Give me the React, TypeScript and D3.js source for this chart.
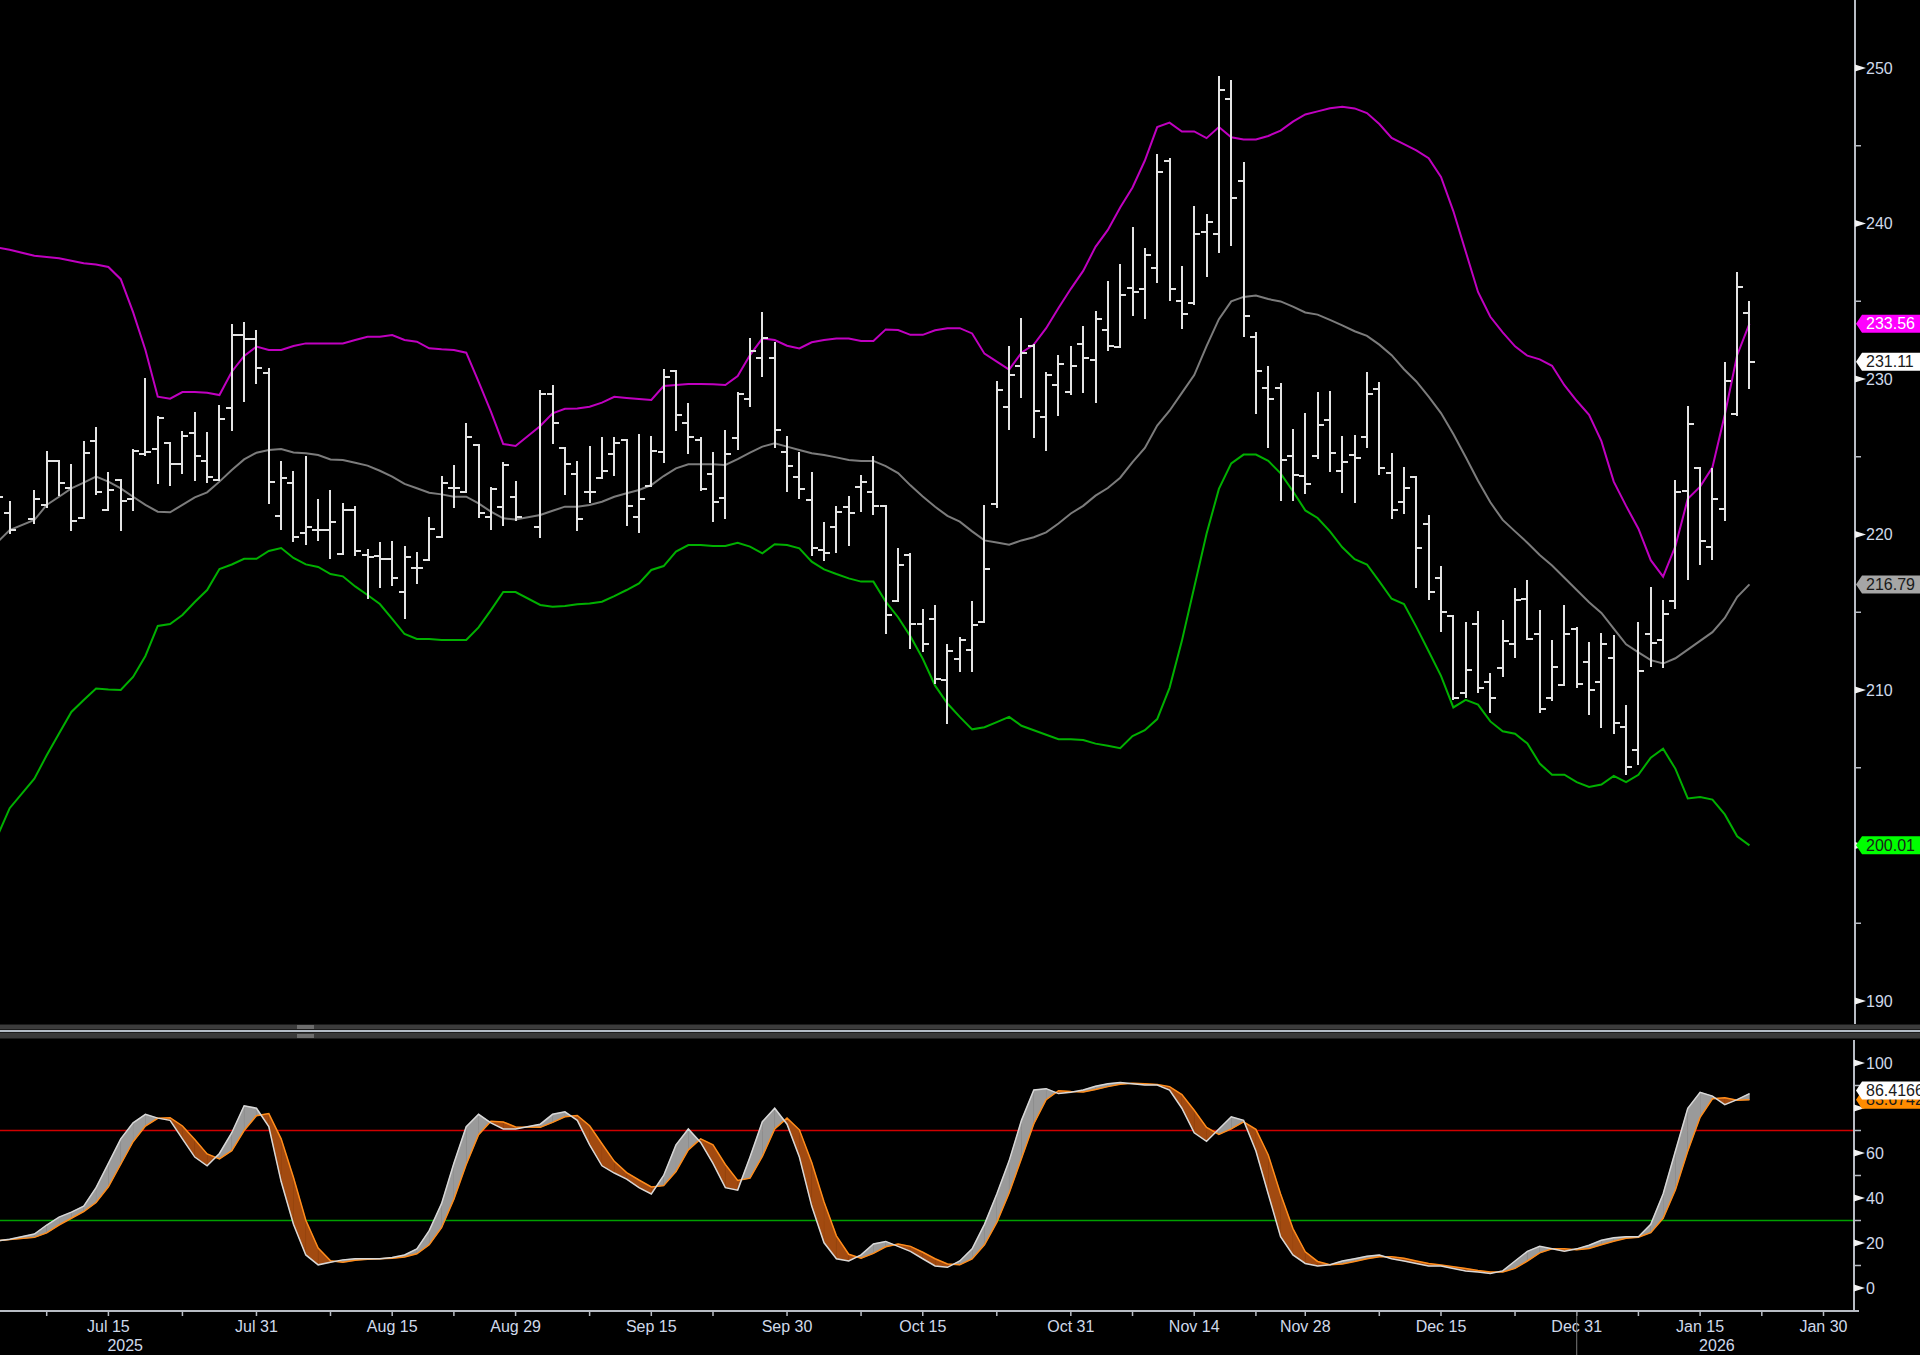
import * as d3 from 'd3';
import React from 'react';

const W = 1920;
const H = 1355;

// trading calendar: weekdays from the first bar, minus days the chart has no slot for
const START = '2025-07-02';
const END = '2026-01-30';
const NO_SLOT = ['2025-11-27', '2025-12-25', '2026-01-01', '2026-01-19'];

const dayTicks = ['2025-07-15', '2025-07-31', '2025-08-15', '2025-08-29', '2025-09-15', '2025-09-30', '2025-10-15',
  '2025-10-31', '2025-11-14', '2025-11-28', '2025-12-15', '2025-12-31', '2026-01-15', '2026-01-30'];
const dayTickLabels = ['Jul 15', 'Jul 31', 'Aug 15', 'Aug 29', 'Sep 15', 'Sep 30', 'Oct 15',
  'Oct 31', 'Nov 14', 'Nov 28', 'Dec 15', 'Dec 31', 'Jan 15', 'Jan 30'];
const minorTicks = ['2025-07-08', '2025-07-23', '2025-08-08', '2025-08-22', '2025-09-08', '2025-09-22', '2025-10-08',
  '2025-10-23', '2025-11-07', '2025-11-21', '2025-12-08', '2025-12-23', '2026-01-08', '2026-01-23'];
const yearTicks = ['2025-07-15', '2026-01-15'];
const yearLabels = ['2025', '2026'];
const yearBreak = '2025-12-31';

const priceTicks = [190, 200, 210, 220, 230, 240, 250];
const priceMinor = [195, 205, 215, 225, 235, 245];
const stochTicks = [0, 20, 40, 60, 80, 100];
const stochMinor = [10, 30, 50, 70, 90];
const overbought = 70;
const oversold = 30;

// daily bars [open, high, low, close]; null = holiday slot
const ohlc: ([number, number, number, number] | null)[] = [
  [221.8, 222.8, 221.0, 222.43], [221.4, 222.11, 220.07, 220.29], null, [221.0, 222.8, 220.72, 222.28],
  [221.9, 225.33, 221.79, 224.73], [224.73, 224.75, 222.54, 223.29], [223.0, 224.47, 220.29, 220.89],
  [221.04, 225.97, 221.04, 225.22], [226.03, 226.87, 222.6, 222.71], [221.58, 223.93, 221.58, 222.86],
  [223.5, 223.5, 220.29, 222.15], [222.28, 225.43, 221.58, 225.37], [225.16, 230.0, 225.11, 225.33],
  [225.48, 227.53, 223.29, 227.47], [225.9, 225.9, 223.18, 224.51], [224.51, 226.61, 223.93, 226.33],
  [226.5, 227.79, 223.5, 225.07], [224.75, 226.5, 223.4, 223.72], [223.5, 228.26, 223.5, 227.41],
  [228.11, 233.47, 226.72, 232.83], [232.83, 233.62, 228.61, 232.55], [232.55, 233.11, 229.76, 230.73],
  [230.41, 230.62, 222.0, 223.4], [221.19, 224.64, 220.33, 223.65], [223.33, 224.0, 219.58, 219.82],
  [220.08, 225.0, 219.37, 220.46], [220.29, 222.22, 219.65, 220.29], [220.29, 222.8, 218.47, 220.83],
  [218.75, 221.96, 218.75, 221.58], [221.58, 221.79, 218.68, 218.96], [218.68, 219.0, 215.9, 218.53],
  [218.64, 219.43, 216.6, 218.4], [218.4, 219.5, 216.75, 217.22], [216.32, 219.17, 214.61, 218.57],
  [217.87, 218.79, 216.9, 217.87], [218.36, 221.04, 218.36, 220.33], [219.86, 223.68, 219.86, 223.29],
  [222.97, 224.43, 221.76, 222.97], [222.76, 227.1, 222.71, 226.29], [225.76, 225.76, 221.15, 221.4],
  [221.15, 222.97, 220.35, 222.93], [221.79, 224.58, 220.61, 224.47], [222.43, 223.35, 220.93, 221.15],
  null, [220.5, 229.25, 219.82, 229.01], [229.01, 229.57, 225.86, 227.15], [225.58, 225.58, 222.6, 224.51],
  [223.87, 224.64, 220.29, 220.97], [222.76, 225.65, 222.11, 222.71], [223.65, 226.23, 223.61, 224.08],
  [225.16, 226.23, 223.83, 225.91], [226.08, 226.08, 220.61, 221.85], [221.15, 226.4, 220.14, 222.28],
  [223.14, 226.25, 223.14, 225.39], [225.33, 230.58, 224.64, 230.15], [230.51, 230.54, 226.72, 227.68],
  [227.15, 228.37, 225.22, 226.29], [226.08, 226.23, 222.86, 222.93], [223.87, 225.26, 220.89, 222.11],
  [222.33, 226.66, 221.04, 225.16], [226.23, 229.08, 225.48, 229.01], [228.71, 232.55, 228.26, 231.8],
  [231.33, 234.27, 230.19, 232.61], [231.33, 232.34, 225.65, 226.72], [225.33, 226.29, 222.82, 224.43],
  [223.68, 225.26, 222.33, 222.93], [222.22, 223.93, 218.68, 219.11], [219.0, 220.76, 218.36, 218.79],
  [220.46, 221.79, 218.9, 221.47], [221.75, 222.43, 219.32, 221.4], [223.03, 223.76, 221.53, 223.35],
  [222.76, 225.0, 221.3, 221.85], [221.85, 221.85, 213.69, 214.82], [215.74, 219.05, 215.74, 218.04],
  [218.68, 218.76, 212.73, 214.22], [214.22, 215.17, 212.53, 212.93], [214.59, 215.4, 210.43, 210.72],
  [210.63, 212.87, 207.9, 212.53], [212.01, 213.36, 211.2, 213.22], [212.58, 215.66, 211.23, 214.16],
  [214.36, 221.84, 214.36, 217.81], [221.98, 229.82, 221.78, 229.31], [228.19, 232.04, 226.81, 230.26],
  [230.83, 233.85, 228.82, 231.69], [232.12, 232.21, 226.29, 227.96], [227.53, 230.4, 225.43, 230.26],
  [229.6, 231.49, 227.67, 230.97], [229.16, 232.04, 229.02, 230.83], [232.27, 233.33, 229.19, 231.32],
  [231.2, 234.34, 228.53, 233.85], [233.13, 236.23, 231.84, 232.12], [232.04, 237.35, 232.04, 235.43],
  [235.86, 239.74, 234.13, 235.57], [235.8, 238.36, 233.93, 237.96], [237.15, 244.42, 236.23, 243.33],
  [244.05, 244.14, 235.08, 235.8], [234.99, 237.21, 233.27, 234.19], [234.91, 241.09, 234.85, 239.31],
  [239.45, 240.54, 236.64, 240.11], [239.31, 249.42, 238.16, 248.59], [247.98, 249.16, 238.59, 241.61],
  [242.76, 243.9, 232.78, 234.08], [232.7, 232.93, 227.81, 230.54], [229.39, 230.77, 225.6, 228.73],
  [229.45, 229.68, 222.21, 224.79], [225.08, 226.75, 222.21, 223.85], [223.73, 227.76, 222.64, 223.27],
  [225.03, 229.1, 224.94, 227.01], [227.38, 229.16, 224.08, 225.23], [224.1, 226.24, 222.74, 224.66],
  [225.11, 226.35, 222.11, 224.93], [226.3, 230.41, 225.63, 229.05], [229.35, 229.77, 223.87, 224.27],
  [223.98, 225.15, 221.05, 221.57], [222.11, 224.27, 221.39, 222.97], [223.69, 223.69, 216.61, 219.13],
  [220.65, 221.16, 215.87, 216.32], [217.22, 217.94, 213.8, 215.01], [214.78, 214.78, 209.4, 209.51],
  [209.78, 214.29, 209.55, 211.31], [214.24, 215.01, 209.85, 210.16], [210.5, 211.06, 208.58, 209.51],
  [211.4, 214.45, 210.91, 213.16], [212.94, 216.5, 212.1, 215.8], [215.82, 216.99, 213.27, 213.27],
  [213.57, 215.08, 208.58, 208.81], [209.49, 213.12, 209.37, 211.47], [210.34, 215.42, 210.3, 213.61],
  [213.95, 214.0, 210.19, 210.41], [211.81, 213.05, 208.43, 210.01], [210.5, 213.61, 207.64, 212.94],
  [212.03, 213.5, 207.23, 207.86], [207.59, 208.99, 204.6, 205.05], [206.17, 214.29, 205.27, 211.25],
  [213.57, 216.59, 211.52, 213.05], [213.21, 215.75, 211.47, 214.9], [215.75, 223.42, 215.3, 222.74],
  [222.79, 228.2, 217.11, 227.09], [224.27, 224.27, 218.12, 219.59], [219.18, 224.21, 218.41, 222.29],
  [221.66, 231.01, 220.94, 229.84], [227.75, 236.79, 227.66, 235.93], [234.24, 234.96, 229.39, 231.11],
];

// Bollinger bands, one value per slot
const upperBand: (number | null)[] = [
  238.46, 238.31, null, 237.92, 237.84, 237.76, 237.6, 237.44, 237.36, 237.2, 236.42, 234.3, 231.87,
  228.86, 228.73, 229.16, 229.16, 229.12, 228.97, 230.47, 231.48, 232.08, 231.87, 231.87, 232.12, 232.29,
  232.29, 232.29, 232.29, 232.51, 232.72, 232.72, 232.83, 232.51, 232.4, 231.97, 231.91, 231.87, 231.69,
  229.83, 227.9, 225.82, 225.69, null, 226.98, 227.79, 228.09, 228.11, 228.22, 228.48, 228.86, 228.78,
  228.71, 228.65, 229.55, 229.61, 229.68, 229.68, 229.66, 229.61, 230.19, 231.54, 232.61, 232.51, 232.14,
  231.97, 232.36, 232.51, 232.61, 232.61, 232.44, 232.44, 233.19, 233.15, 232.84, 232.84, 233.13, 233.27,
  233.27, 232.93, 231.63, 231.12, 230.6, 231.69, 232.21, 233.27, 234.57, 235.8, 236.95, 238.5, 239.59,
  241.03, 242.32, 244.05, 246.2, 246.49, 245.92, 245.92, 245.49, 246.2, 245.54, 245.4, 245.4, 245.63,
  245.97, 246.55, 247.01, 247.21, 247.41, 247.5, 247.4, 247.1, 246.4, 245.5, 245.1, 244.7, 244.2, 243.0,
  240.8, 238.2, 235.6, 234.0, 233.0, 232.1, 231.5, 231.26, 230.85, 229.6, 228.6, 227.7, 226.0, 223.4,
  221.84, 220.37, 218.35, 217.29, 219.26, 222.29, 223.08, 224.32, 227.7, 231.53, 233.56,
];
const middleBand: (number | null)[] = [
  219.5, 220.29, null, 220.93, 221.9, 222.43, 222.97, 223.33, 223.72, 223.4, 222.97, 222.43, 221.9,
  221.47, 221.43, 221.9, 222.39, 222.71, 223.4, 224.15, 224.83, 225.26, 225.43, 225.5, 225.28, 225.22,
  225.11, 224.83, 224.79, 224.62, 224.43, 224.1, 223.72, 223.25, 222.97, 222.69, 222.58, 222.43, 222.43,
  222.0, 221.47, 221.04, 220.97, null, 221.25, 221.53, 221.79, 221.79, 221.9, 222.11, 222.43, 222.65,
  222.86, 223.18, 223.76, 224.25, 224.51, 224.51, 224.51, 224.47, 224.85, 225.26, 225.65, 225.86, 225.65,
  225.43, 225.22, 225.11, 224.96, 224.79, 224.73, 224.73, 224.4, 223.95, 223.16, 222.44, 221.78, 221.2,
  220.83, 220.2, 219.62, 219.48, 219.34, 219.62, 219.82, 220.14, 220.71, 221.35, 221.84, 222.5, 222.99,
  223.65, 224.65, 225.57, 227.01, 227.96, 229.11, 230.25, 232.12, 233.85, 234.99, 235.28, 235.37, 235.14,
  234.99, 234.65, 234.28, 234.14, 233.8, 233.45, 233.07, 232.77, 232.21, 231.53, 230.63, 229.84, 228.87,
  227.81, 226.46, 224.99, 223.46, 222.07, 220.94, 220.2, 219.47, 218.68, 218.01, 217.22, 216.43, 215.64,
  214.96, 213.95, 212.94, 212.42, 211.92, 211.7, 212.04, 212.6, 213.16, 213.72, 214.63, 215.98, 216.79,
];
const lowerBand: (number | null)[] = [
  200.6, 202.4, null, 204.3, 205.8, 207.2, 208.59, 209.36, 210.1, 210.03, 210.0, 210.84, 212.19,
  214.12, 214.24, 214.82, 215.66, 216.43, 217.78, 218.07, 218.44, 218.44, 218.94, 219.13, 218.49, 218.08,
  217.91, 217.46, 217.31, 216.66, 216.11, 215.53, 214.57, 213.6, 213.28, 213.28, 213.22, 213.22, 213.22,
  214.03, 215.14, 216.3, 216.3, null, 215.47, 215.36, 215.4, 215.51, 215.57, 215.68, 216.04, 216.43,
  216.86, 217.72, 217.97, 218.9, 219.32, 219.32, 219.26, 219.26, 219.47, 219.22, 218.79, 219.37, 219.32,
  219.11, 218.25, 217.76, 217.46, 217.18, 216.97, 216.97, 215.68, 214.68, 213.45, 212.01, 210.28, 209.13,
  208.27, 207.47, 207.61, 207.93, 208.27, 207.7, 207.41, 207.12, 206.84, 206.84, 206.78, 206.55, 206.41,
  206.26, 207.04, 207.41, 208.13, 210.14, 213.16, 216.61, 220.05, 222.93, 224.57, 225.14, 225.14, 224.74,
  223.93, 222.78, 221.55, 221.06, 220.2, 219.18, 218.41, 218.07, 216.99, 215.87, 215.53, 214.06, 212.49,
  210.91, 208.88, 209.37, 209.06, 207.98, 207.35, 207.19, 206.56, 205.27, 204.55, 204.55, 204.08, 203.76,
  203.92, 204.48, 204.08, 204.55, 205.65, 206.22, 204.93, 203.03, 203.12, 202.95, 202.0, 200.59, 200.01,
];

// slow stochastic %K and %D
const stochK: (number | null)[] = [
  21, 21.7, null, 24, 28, 31.5, 33.7, 36.4, 44.6, 55.4, 66.3, 73.4, 77.2, 75.5, 74.5, 66.3, 58.2, 54.3,
  59.8, 69, 81, 79.9, 71.7, 47.3, 28.3, 14.7, 10.3, 11.4, 12.5, 13, 13, 13, 13.6, 14.7, 17.4, 25.5, 37.5,
  55.4, 71.7, 77.2, 73.4, 70.7, 70.7, null, 72.8, 77.2, 78.3, 74.5, 63.6, 54.3, 51.1, 48.4, 44.6, 41.8,
  50, 63.6, 70.7, 64.7, 55.4, 44.6, 43.5, 58.2, 73.9, 79.9, 72.8, 58.2, 36.4, 20.1, 13, 12, 14.7, 19.6,
  20.7, 18.5, 16.3, 13, 9.8, 9.2, 12, 17.4, 28.3, 41.8, 56.5, 74.5, 88, 88.6, 86.4, 87, 88, 89.7, 90.8,
  91.3, 90.8, 90.2, 90.2, 88, 79.9, 69, 65.2, 70.7, 76.1, 74.5, 60.9, 41.8, 22.8, 14.7, 10.9, 9.8, 10.3,
  12, 13, 14.1, 14.7, 13, 12, 10.9, 9.8, 9.8, 8.7, 7.6, 7.1, 6.5, 7.6, 12, 16.3, 18.5, 17.4, 16.3, 17.4,
  19, 21.2, 22.3, 22.8, 22.8, 28.3, 41.8, 60.9, 79.9, 87, 85.3, 81.5, 83.7, 86.4166,
];
const stochD: (number | null)[] = [
  21, 21.5, null, 22.5, 24.5, 28, 31, 34, 38, 45, 55, 65, 72, 75.4, 75.7, 72, 66, 59.6, 57.4, 61, 70,
  76.6, 77.5, 66.3, 49.1, 30.1, 17.8, 12.1, 11.4, 12.3, 12.8, 13, 13.2, 13.8, 15.2, 19.2, 26.8, 39.5,
  54.9, 68.1, 74.1, 73.8, 71.6, null, 71.4, 73.6, 76.1, 76.7, 72.1, 64.1, 56.3, 51.3, 48, 44.9, 45.5,
  51.8, 61.4, 66.3, 63.6, 54.9, 47.8, 48.8, 58.5, 70.7, 75.5, 70.3, 55.8, 38.2, 23.2, 15, 13.2, 15.4,
  18.3, 19.6, 18.5, 15.9, 13, 10.7, 10.3, 12.9, 19.2, 29.2, 42.2, 57.6, 73, 83.7, 87.7, 87.3, 87.1, 88.2,
  89.5, 90.6, 91, 90.8, 90.4, 89.5, 86, 79, 71.4, 68.3, 70.7, 73.8, 70.5, 59.1, 41.8, 26.4, 16.1, 11.8,
  10.3, 10.7, 11.8, 13, 13.9, 13.9, 13.2, 12, 10.9, 10.2, 9.4, 8.7, 7.8, 7.1, 7.1, 8.7, 12, 15.6, 17.4,
  17.4, 17, 17.6, 19.2, 20.8, 22.1, 22.6, 24.6, 31, 43.7, 60.9, 75.9, 84.1, 84.6, 83.5, 83.6742,
];

const FONT = '"Liberation Sans", Arial, sans-serif';
const AXIS_TEXT = '#cfd9ea';
const AXIS_LINE = '#b8bcc4';

function tradingSlots(): string[] {
  const fmt = d3.utcFormat('%Y-%m-%d');
  const out: string[] = [];
  const from = d3.utcParse('%Y-%m-%d')(START)!;
  const to = d3.utcDay.offset(d3.utcParse('%Y-%m-%d')(END)!, 1);
  for (const d of d3.utcDays(from, to)) {
    const wd = d.getUTCDay();
    if (wd === 0 || wd === 6) continue;
    const s = fmt(d);
    if (NO_SLOT.includes(s)) continue;
    out.push(s);
  }
  return out;
}

type Pt = [number, number];

function Tag({ y, text, fill, color }: { y: number; text: string; fill: string; color: string }) {
  const x0 = 1856;
  return (
    <g>
      <path d={`M${x0},${y}L${x0 + 6},${y - 9}L${W},${y - 9}L${W},${y + 9}L${x0 + 6},${y + 9}Z`} fill={fill} />
      <text x={1866} y={y} dy="0.36em" fill={color} fontSize={16} fontFamily={FONT}>{text}</text>
    </g>
  );
}

export default function App() {
  const slots = tradingSlots();
  const slotOf = (s: string) => slots.indexOf(s);

  const x = d3.scaleLinear().domain([slotOf('2025-07-15'), slotOf('2026-01-30')]).range([108.4, 1823.5]);
  const y = d3.scaleLinear().domain([190, 250]).range([1001, 68]);
  const ys = d3.scaleLinear().domain([0, 100]).range([1288, 1063]);

  const axisX = 1855;

  const series = (arr: (number | null)[]): Pt[] =>
    arr.map((v, i) => (v == null ? null : ([i, v] as Pt))).filter((p): p is Pt => p !== null);

  const priceLine = d3.line<Pt>().x(d => x(d[0])).y(d => y(d[1]));
  const stochLine = d3.line<Pt>().x(d => x(d[0])).y(d => ys(d[1]));

  // ribbon between %K and %D, split where they cross
  const kd = stochK
    .map((k, i) => (k == null || stochD[i] == null ? null : { i, k, d: stochD[i] as number }))
    .filter((p): p is { i: number; k: number; d: number } => p !== null);
  const upPolys: string[] = [];
  const dnPolys: string[] = [];
  for (let j = 0; j < kd.length - 1; j++) {
    const a = kd[j], b = kd[j + 1];
    const xa = x(a.i), xb = x(b.i);
    const da = a.k - a.d, db = b.k - b.d;
    if (da * db >= 0) {
      const p = `M${xa},${ys(a.k)}L${xb},${ys(b.k)}L${xb},${ys(b.d)}L${xa},${ys(a.d)}Z`;
      (da + db >= 0 ? upPolys : dnPolys).push(p);
    } else {
      const t = da / (da - db);
      const cx = xa + t * (xb - xa);
      const cy = ys(a.k + t * (b.k - a.k));
      (da > 0 ? upPolys : dnPolys).push(`M${xa},${ys(a.k)}L${cx},${cy}L${xa},${ys(a.d)}Z`);
      (db > 0 ? upPolys : dnPolys).push(`M${cx},${cy}L${xb},${ys(b.k)}L${xb},${ys(b.d)}Z`);
    }
  }

  const last = (arr: (number | null)[]) => arr[arr.length - 1] as number;
  const lastBar = ohlc[ohlc.length - 1]!;

  // value tags on the right edge; tick labels they cover are not drawn
  const priceTags = [
    { v: last(upperBand), fill: '#ff00ff', color: '#ffffff', digits: 2, dy: 0 },
    { v: lastBar[3], fill: '#ffffff', color: '#1a1a1a', digits: 2, dy: 0 },
    { v: last(middleBand), fill: '#a6a6a6', color: '#1a1a1a', digits: 2, dy: 0 },
    { v: last(lowerBand), fill: '#00ff00', color: '#1a1a1a', digits: 2, dy: 0 },
  ];
  const stochTags = [
    { v: last(stochD), fill: '#ff8c00', color: '#1a1a1a', digits: 4, dy: 0 },
    { v: last(stochK), fill: '#ffffff', color: '#1a1a1a', digits: 4, dy: -3 },
  ];
  const priceFree = (v: number) => priceTags.every(t => Math.abs(y(t.v) - y(v)) > 13);
  const stochFree = (v: number) => stochTags.every(t => Math.abs(ys(t.v) - ys(v)) > 13);

  return (
    <svg width={W} height={H} viewBox={`0 0 ${W} ${H}`}
      style={{ position: 'absolute', left: 0, top: 0, display: 'block', background: '#000' }}>
      <defs>
        <clipPath id="pricePlot"><rect x={0} y={0} width={axisX} height={1022} /></clipPath>
        <clipPath id="stochPlot"><rect x={0} y={1040} width={axisX - 1} height={271} /></clipPath>
      </defs>
      <rect x={0} y={0} width={W} height={H} fill="#000" />

      {/* price panel */}
      <g clipPath="url(#pricePlot)">
        <path d={priceLine(series(upperBand)) ?? ''} fill="none" stroke="#c000c0" strokeWidth={2} />
        <path d={priceLine(series(middleBand)) ?? ''} fill="none" stroke="#7c7c7c" strokeWidth={2} />
        <path d={priceLine(series(lowerBand)) ?? ''} fill="none" stroke="#00b000" strokeWidth={2} />
        <g stroke="#e4e4e4" strokeWidth={2} shapeRendering="crispEdges">
          {ohlc.map((b, i) => {
            if (!b) return null;
            const cx = Math.round(x(i));
            return (
              <g key={i}>
                <line x1={cx} x2={cx} y1={y(b[1]) - 1} y2={y(b[2]) + 1} />
                <line x1={cx - 6} x2={cx} y1={Math.round(y(b[0]))} y2={Math.round(y(b[0]))} />
                <line x1={cx} x2={cx + 6} y1={Math.round(y(b[3]))} y2={Math.round(y(b[3]))} />
              </g>
            );
          })}
        </g>
      </g>

      {/* price axis */}
      <line x1={axisX} x2={axisX} y1={0} y2={1024} stroke={AXIS_LINE} strokeWidth={2} />
      {priceMinor.map(v => (
        <line key={v} x1={axisX} x2={axisX + 6} y1={y(v)} y2={y(v)} stroke={AXIS_LINE} strokeWidth={1.5} />
      ))}
      {priceTicks.map(v => (
        <g key={v}>
          <path d={`M${axisX},${y(v) - 3.5}L${axisX + 11},${y(v)}L${axisX},${y(v) + 3.5}Z`} fill="#f2f2f2" />
          {priceFree(v) && (
            <text x={1866} y={y(v)} dy="0.36em" fill={AXIS_TEXT} fontSize={16} fontFamily={FONT}>{v}</text>
          )}
        </g>
      ))}
      {priceTags.map((t, i) => (
        <Tag key={i} y={y(t.v) + t.dy} text={t.v.toFixed(t.digits)} fill={t.fill} color={t.color} />
      ))}

      {/* panel separator */}
      <rect x={0} y={1024} width={W} height={15} fill="#1c1c1c" />
      <rect x={0} y={1025} width={W} height={4} fill="#3c3c3c" />
      <rect x={0} y={1033} width={W} height={5} fill="#3a3a3a" />
      <rect x={0} y={1030} width={W} height={2} fill="#b4bcc6" />
      <rect x={297} y={1025} width={17} height={4} fill="#6e6e6e" />
      <rect x={297} y={1034} width={17} height={4} fill="#6e6e6e" />

      {/* stochastic panel */}
      <g clipPath="url(#stochPlot)">
        <line x1={0} x2={axisX} y1={ys(overbought)} y2={ys(overbought)} stroke="#d00000" strokeWidth={1.5} />
        <line x1={0} x2={axisX} y1={ys(oversold)} y2={ys(oversold)} stroke="#00a000" strokeWidth={1.5} />
        {upPolys.map((p, i) => <path key={`u${i}`} d={p} fill="#9a9a9a" stroke="#9a9a9a" strokeWidth={0.5} />)}
        {dnPolys.map((p, i) => <path key={`d${i}`} d={p} fill="#a24a10" stroke="#a24a10" strokeWidth={0.5} />)}
        <path d={stochLine(series(stochD)) ?? ''} fill="none" stroke="#ff8c1a" strokeWidth={1.5} />
        <path d={stochLine(series(stochK)) ?? ''} fill="none" stroke="#d8d8d8" strokeWidth={1.5} />
      </g>

      <line x1={axisX - 1} x2={axisX - 1} y1={1040} y2={1311} stroke={AXIS_LINE} strokeWidth={2} />
      {stochMinor.map(v => (
        <line key={v} x1={axisX} x2={axisX + 6} y1={ys(v)} y2={ys(v)} stroke={AXIS_LINE} strokeWidth={1.5} />
      ))}
      {stochTicks.map(v => (
        <g key={v}>
          <path d={`M${axisX - 1},${ys(v) - 3.5}L${axisX + 10},${ys(v)}L${axisX - 1},${ys(v) + 3.5}Z`} fill="#f2f2f2" />
          {stochFree(v) && (
            <text x={1866} y={ys(v)} dy="0.36em" fill={AXIS_TEXT} fontSize={16} fontFamily={FONT}>{v}</text>
          )}
        </g>
      ))}
      {stochTags.map((t, i) => (
        <Tag key={i} y={ys(t.v) + t.dy} text={t.v.toFixed(t.digits)} fill={t.fill} color={t.color} />
      ))}

      {/* time axis */}
      <line x1={0} x2={axisX + 4} y1={1311} y2={1311} stroke={AXIS_LINE} strokeWidth={2} />
      {minorTicks.map(d => (
        <line key={d} x1={x(slotOf(d))} x2={x(slotOf(d))} y1={1311} y2={1316} stroke={AXIS_LINE} strokeWidth={1.5} />
      ))}
      {dayTicks.map((d, i) => (
        <g key={d}>
          <line x1={x(slotOf(d))} x2={x(slotOf(d))} y1={1311} y2={1316} stroke={AXIS_LINE} strokeWidth={1.5} />
          <text x={x(slotOf(d))} y={1332} textAnchor="middle" fill={AXIS_TEXT} fontSize={16} fontFamily={FONT}>
            {dayTickLabels[i]}
          </text>
        </g>
      ))}
      {yearTicks.map((d, i) => (
        <text key={d} x={x(slotOf(d)) - 1} y={1351} fill={AXIS_TEXT} fontSize={16} fontFamily={FONT}>{yearLabels[i]}</text>
      ))}
      <line x1={x(slotOf(yearBreak))} x2={x(slotOf(yearBreak))} y1={1312} y2={H} stroke="#7a7a7a" strokeWidth={1} />
    </svg>
  );
}
